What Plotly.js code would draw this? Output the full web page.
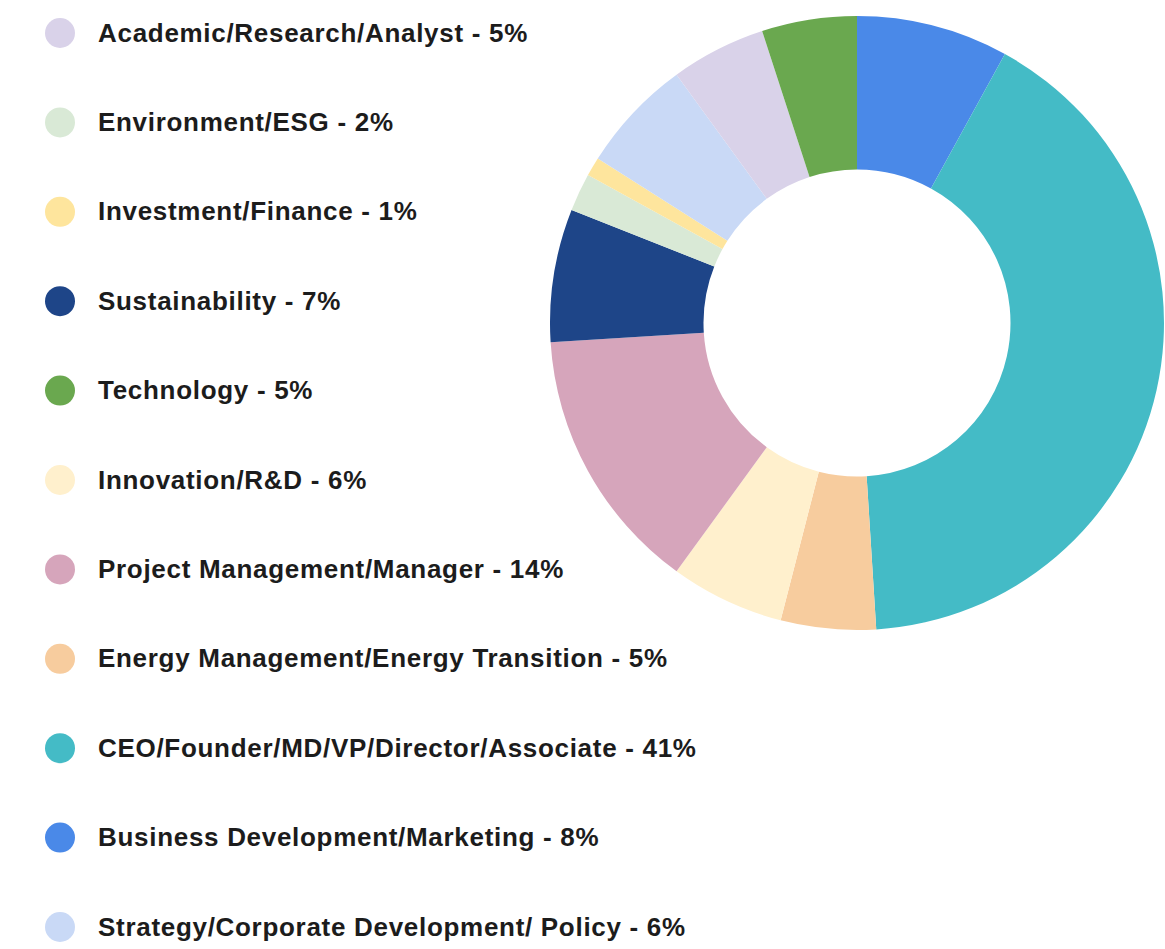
<!DOCTYPE html>
<html>
<head>
<meta charset="utf-8">
<script src="https://cdn.plot.ly/plotly-3.0.1.min.js"></script>
<style>
html,body{margin:0;padding:0;background:#fff;}
#chart{width:1165px;height:949px;}
#chart .annotation-text{letter-spacing:0.7px;}
</style>
</head>
<body>
<div id="chart"></div>
<script>
// Slices in drawing order (clockwise from 12 o'clock)
const categories = [
  "Business Development/Marketing",
  "CEO/Founder/MD/VP/Director/Associate",
  "Energy Management/Energy Transition",
  "Innovation/R&D",
  "Project Management/Manager",
  "Sustainability",
  "Environment/ESG",
  "Investment/Finance",
  "Strategy/Corporate Development/ Policy",
  "Academic/Research/Analyst",
  "Technology"
];
const percentages = [8, 41, 5, 6, 14, 7, 2, 1, 6, 5, 5];
const colors = [
  "#4a89e8", "#44bbc6", "#f7cc9e", "#fff0cd", "#d6a5bb", "#1e4588",
  "#d9e9d6", "#fee59d", "#c9d9f6", "#d9d2e9", "#6aa84f"
];
// Order of the legend entries
const legendOrder = [
  "Academic/Research/Analyst",
  "Environment/ESG",
  "Investment/Finance",
  "Sustainability",
  "Technology",
  "Innovation/R&D",
  "Project Management/Manager",
  "Energy Management/Energy Transition",
  "CEO/Founder/MD/VP/Director/Associate",
  "Business Development/Marketing",
  "Strategy/Corporate Development/ Policy"
];

const W = 1165, H = 949;
const trace = {
  type: "pie",
  labels: categories,
  values: percentages,
  marker: {colors: colors, line: {width: 0}},
  hole: 0.5,
  sort: false,
  direction: "clockwise",
  rotation: 0,
  textinfo: "none",
  hoverinfo: "label+percent",
  showlegend: false,
  domain: {x: [550 / W, 1164 / W], y: [1 - 630 / H, 1 - 16 / H]}
};

const shapes = [];
const annotations = [];
const top0 = 33, step = 89.4;
legendOrder.forEach((name, i) => {
  const idx = categories.indexOf(name);
  const yc = top0 + i * step;
  const r = 15;
  shapes.push({
    type: "circle", xref: "paper", yref: "paper",
    x0: (60 - r) / W, x1: (60 + r) / W,
    y0: 1 - (yc + r) / H, y1: 1 - (yc - r) / H,
    fillcolor: colors[idx], line: {width: 0}
  });
  annotations.push({
    xref: "paper", yref: "paper",
    x: 97 / W, y: 1 - (yc - 0.5) / H,
    xanchor: "left", yanchor: "middle", align: "left",
    showarrow: false, borderpad: 0,
    text: "<b>" + name.replace(/&/g, "&amp;") + " - " + percentages[idx] + "%</b>",
    font: {family: "Liberation Sans, Arial, sans-serif", size: 26, color: "#1c1c1c"}
  });
});

const layout = {
  width: W, height: H,
  margin: {l: 0, r: 0, t: 0, b: 0},
  paper_bgcolor: "#ffffff",
  showlegend: false,
  shapes: shapes,
  annotations: annotations
};

Plotly.newPlot("chart", [trace], layout, {displayModeBar: false, staticPlot: true});
</script>
</body>
</html>
